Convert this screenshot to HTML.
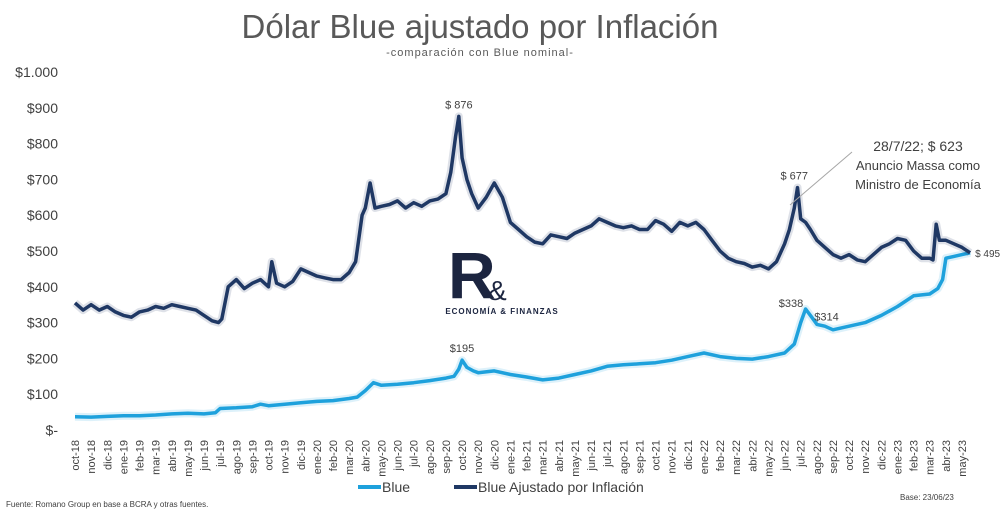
<!DOCTYPE html>
<html><head><meta charset="utf-8">
<style>
body{margin:0;background:#fff;width:1000px;height:514px;overflow:hidden;font-family:"Liberation Sans",sans-serif}
svg text{font-family:"Liberation Sans",sans-serif}
</style></head>
<body>
<svg id="chart" width="1000" height="514">
<text x="480" y="38" text-anchor="middle" font-size="33" fill="#595959">Dólar Blue ajustado por Inflación</text>
<text x="480" y="56" text-anchor="middle" font-size="11" fill="#595959" letter-spacing="1">-comparación con Blue nominal-</text>
<g id="yaxis"></g>
<g id="xaxis"></g>
<g>
<text x="448" y="298" font-size="66" font-weight="bold" fill="#1c2540">R</text>
<text x="488" y="300" font-size="28" fill="#1c2540" font-family="Liberation Serif">&amp;</text>
<text x="502" y="314" font-size="8" font-weight="bold" fill="#1c2540" text-anchor="middle" letter-spacing="1">ECONOMÍA &amp; FINANZAS</text>
</g>
<g id="series"></g>
<g id="labels"></g>
<line x1="790" y1="205" x2="852" y2="152" stroke="#a6a6a6" stroke-width="1"/>
<text x="918" y="151" text-anchor="middle" font-size="14" fill="#404040">28/7/22; $ 623</text>
<text x="918" y="170" text-anchor="middle" font-size="13" fill="#404040">Anuncio Massa como</text>
<text x="918" y="189" text-anchor="middle" font-size="13" fill="#404040">Ministro de Economía</text>
<g>
<line x1="358" y1="487" x2="381" y2="487" stroke="#1ea1dc" stroke-width="4"/>
<text x="382" y="492" font-size="14" fill="#404040">Blue</text>
<line x1="454" y1="487" x2="477" y2="487" stroke="#1f3864" stroke-width="4"/>
<text x="478" y="492" font-size="14" fill="#404040">Blue Ajustado por Inflación</text>
</g>
<text x="6" y="507" font-size="8" fill="#404040">Fuente: Romano Group en base a BCRA y otras fuentes.</text>
<text x="900" y="500" font-size="8" fill="#404040">Base: 23/06/23</text>
</svg>
<script>
const months=["oct-18","nov-18","dic-18","ene-19","feb-19","mar-19","abr-19","may-19","jun-19","jul-19","ago-19","sep-19","oct-19","nov-19","dic-19","ene-20","feb-20","mar-20","abr-20","may-20","jun-20","jul-20","ago-20","sep-20","oct-20","nov-20","dic-20","ene-21","feb-21","mar-21","abr-21","may-21","jun-21","jul-21","ago-21","sep-21","oct-21","nov-21","dic-21","ene-22","feb-22","mar-22","abr-22","may-22","jun-22","jul-22","ago-22","sep-22","oct-22","nov-22","dic-22","ene-23","feb-23","mar-23","abr-23","may-23"];
const yTicks=[0,100,200,300,400,500,600,700,800,900,1000];
const yTickLabels=["$-","$100","$200","$300","$400","$500","$600","$700","$800","$900","$1.000"];
const adjT=[0,0.5,1,1.5,2,2.5,3,3.5,4,4.5,5,5.5,6,6.5,7,7.5,8,8.5,8.9,9.1,9.5,10,10.5,11,11.5,12,12.2,12.5,13,13.5,14,14.5,15,15.5,16,16.5,17,17.4,17.8,18,18.3,18.6,19,19.5,20,20.5,21,21.5,22,22.5,23,23.3,23.6,23.8,24,24.3,24.6,25,25.5,26,26.5,27,27.5,28,28.5,29,29.5,30,30.5,31,31.5,32,32.5,33,33.5,34,34.5,35,35.5,36,36.5,37,37.5,38,38.5,39,39.5,40,40.5,41,41.5,42,42.5,43,43.5,44,44.3,44.6,44.8,45,45.3,45.6,46,46.5,47,47.5,48,48.5,49,49.5,50,50.5,51,51.5,52,52.5,53,53.2,53.4,53.6,54,54.5,55,55.5];
const adjV=[355,335,350,335,345,330,320,315,330,335,345,340,350,345,340,335,320,305,300,310,400,420,395,410,420,400,470,410,400,415,450,440,430,425,420,420,440,470,600,620,690,620,625,630,640,620,635,625,640,645,660,720,820,876,760,700,660,620,650,690,650,580,560,540,525,520,545,540,535,550,560,570,590,580,570,565,570,560,560,585,575,555,580,570,580,560,530,500,480,470,465,455,460,450,470,520,560,620,677,590,580,560,530,510,490,480,490,475,470,490,510,520,535,530,500,480,480,475,575,530,530,520,510,495];
const blueT=[0,1,2,3,4,5,6,7,8,8.7,9,10,11,11.5,12,13,14,15,16,17,17.5,18,18.5,19,20,21,22,23,23.5,23.8,24,24.3,24.7,25,26,27,28,29,30,31,32,33,34,35,36,37,38,39,40,41,42,43,44,44.6,45,45.3,45.7,46,46.5,47,48,49,50,51,52,53,53.5,53.8,54,54.5,55,55.5];
const blueV=[37,36,38,40,40,42,45,47,45,48,60,62,65,72,68,72,76,80,82,88,92,110,132,125,128,132,138,145,150,170,195,175,165,160,165,155,148,140,145,155,165,178,182,185,188,195,205,215,205,200,198,205,215,240,300,338,314,295,290,280,290,300,320,345,375,380,395,420,480,485,490,495];
const L=75,R=962,T=72,B=430;
const xs=m=>L+m*(R-L)/(months.length-1);
const ys=v=>B-v*(B-T)/1000;
const NS="http://www.w3.org/2000/svg";
function mk(tag,attrs,parent){const e=document.createElementNS(NS,tag);for(const k in attrs)e.setAttribute(k,attrs[k]);parent.appendChild(e);return e;}
const ya=document.getElementById('yaxis'),xa=document.getElementById('xaxis');
yTicks.forEach((v,i)=>{const t=mk('text',{x:58,y:ys(v)+5,'text-anchor':'end','font-size':14,fill:'#404040'},ya);t.textContent=yTickLabels[i];

});
months.forEach((m,i)=>{const x=xs(i);const t=mk('text',{x:0,y:0,'text-anchor':'end','font-size':11,fill:'#404040',transform:`translate(${x+4},440) rotate(-90)`},xa);t.textContent=m;

});
const sg=document.getElementById('series');
function line(T,V,color,name){const d=T.map((t,i)=>(i?'L':'M')+xs(t).toFixed(1)+','+ys(V[i]).toFixed(1)).join('');
const g=mk('path',{d,fill:'none',stroke:color,'stroke-opacity':0.15,'stroke-width':8,'stroke-linejoin':'round'},sg);


const p=mk('path',{d,fill:'none',stroke:color,'stroke-width':3.5,'stroke-linejoin':'round'},sg);

}
line(blueT,blueV,'#1ea1dc','blue-line');
line(adjT,adjV,'#1f3864','adjusted-line');
const lg=document.getElementById('labels');
function lab(x,y,txt,name,anchor,fs){const t=mk('text',{x,y,'font-size':fs||11,fill:'#404040','text-anchor':anchor||'middle'},lg);t.textContent=txt;

}
lab(xs(23.8),ys(876)-8,'$ 876','label-peak-876');
lab(xs(44.6),ys(677)-8,'$ 677','label-peak-677');
lab(xs(24),ys(195)-8,'$195','label-peak-195');
lab(xs(44.4),ys(338)-2,'$338','label-peak-338');
lab(xs(46.6),ys(314)+3,'$314','label-314');
lab(xs(55.5)+5,ys(495)+4,'$ 495','label-last-495','start',10);
</script>
</body></html>
